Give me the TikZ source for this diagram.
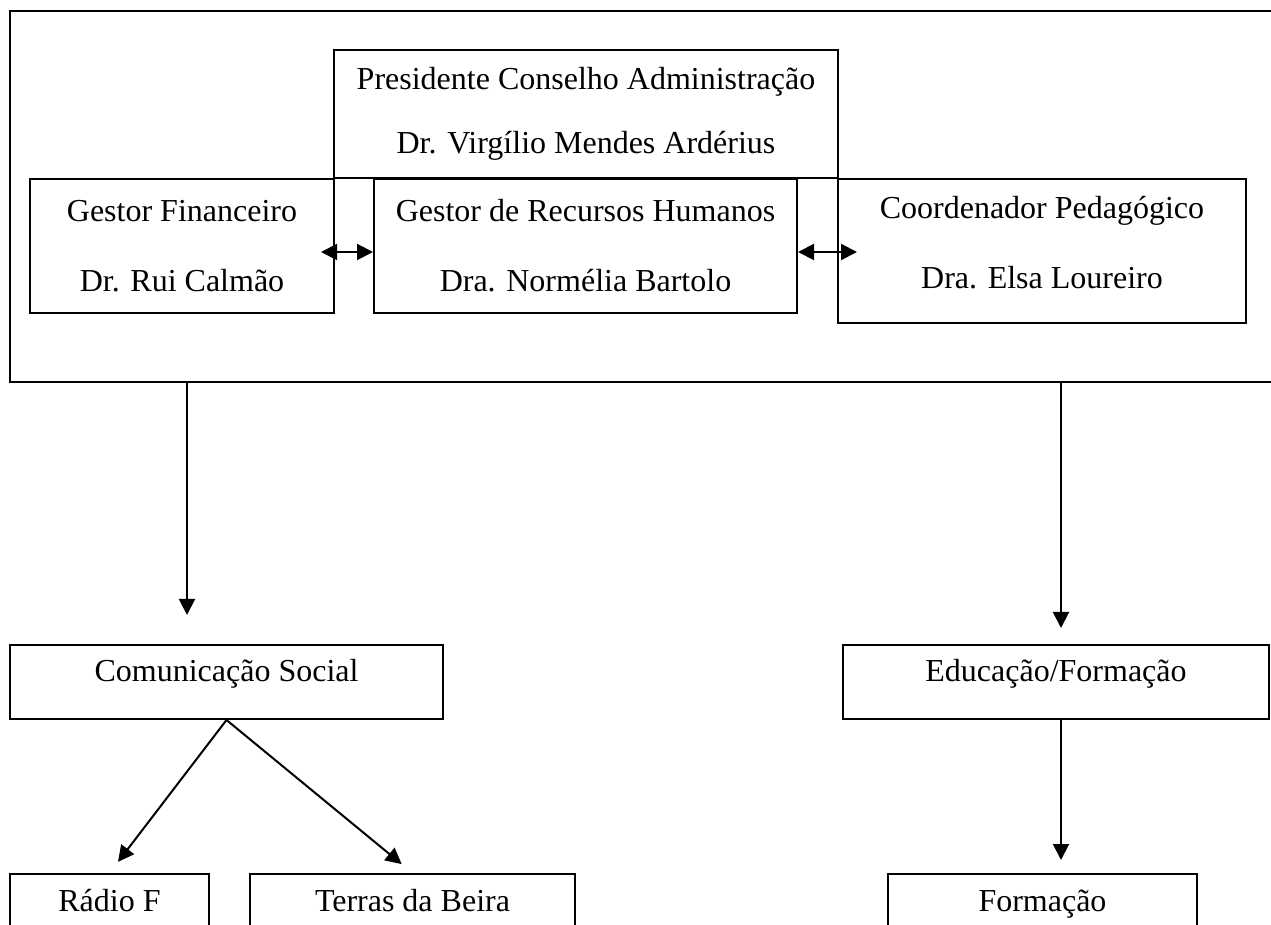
\documentclass[tikz,border=0pt]{standalone}
\usepackage{fontspec}
\setmainfont{Liberation Serif}
\usepackage{tikz}
\usetikzlibrary{arrows.meta, calc}

\tikzset{
    caixa/.style={draw, line width=1pt, rectangle, inner sep=0pt, align=center, font=\fontsize{16}{35}\selectfont},
    unidade/.style={caixa, text height=6pt, text depth=6pt},
    seta/.style={line width=1pt, -{Triangle[length=8pt,width=8pt]}},
    dupla/.style={line width=1pt, {Triangle[length=8pt,width=8pt]}-{Triangle[length=8pt,width=8pt]}}
}

\begin{document}
\begin{tikzpicture}[x=0.5pt, y=-0.5pt]
    \useasboundingbox (0,0) rectangle (1271,925);
    \clip (0,0) rectangle (1271,925);

    % Direccao
    \node[caixa, minimum width=640pt, minimum height=185.5pt] (conselho) at (650,196.5) {};
    \node[caixa, minimum width=252pt, minimum height=64pt, font=\fontsize{16}{32}\selectfont] (pres) at (586,114)
        {Presidente Conselho Administração\\Dr. Virgílio Mendes Ardérius};
    \node[caixa, minimum width=152pt, minimum height=67pt] (gfin) at (182,246)
        {Gestor Financeiro\\Dr. Rui Calmão};
    \node[caixa, minimum width=211.5pt, minimum height=67pt] (grh) at (585.5,246)
        {Gestor de Recursos Humanos\\Dra. Normélia Bartolo};
    \node[caixa, minimum width=204pt, minimum height=72pt] (coord) at (1042,251)
        {Coordenador Pedagógico\\Dra. Elsa Loureiro\rule[-9pt]{0pt}{9pt}};

    \draw[dupla] ($(gfin.east)+(-7pt,-3pt)$) -- ($(grh.west)+(0,-3pt)$);
    \draw[dupla] ($(grh.east)+(0,-3pt)$) -- ($(grh.east -| coord.west)+(10pt,-3pt)$);

    % Areas
    \node[unidade, minimum width=216.5pt, minimum height=37pt] (comsocial) at (226.5,682) {Comunicação Social};
    \node[unidade, minimum width=213pt, minimum height=37pt] (educ) at (1056,682) {Educação/Formação};

    \coordinate (fimcs) at (187,615);
    \coordinate (fimed) at (1061,628);
    \draw[seta] (conselho.south -| fimcs) -- (fimcs);
    \draw[seta] (conselho.south -| fimed) -- (fimed);

    % Servicos
    \node[unidade, minimum width=99.5pt, minimum height=37.5pt] (radio) at (109.5,911.5) {Rádio F};
    \node[unidade, minimum width=162.5pt, minimum height=37.5pt] (terras) at (412.5,911.5) {Terras da Beira};
    \node[unidade, minimum width=154.5pt, minimum height=37.5pt] (form) at (1042.5,911.5) {Formação};

    \draw[seta, shorten >=7pt] (comsocial.south) -- (radio.north);
    \draw[seta, shorten >=7pt] (comsocial.south) -- (terras.north);
    \coordinate (fimfo) at (1061,860);
    \draw[seta] (educ.south -| fimfo) -- (fimfo);
\end{tikzpicture}
\end{document}
